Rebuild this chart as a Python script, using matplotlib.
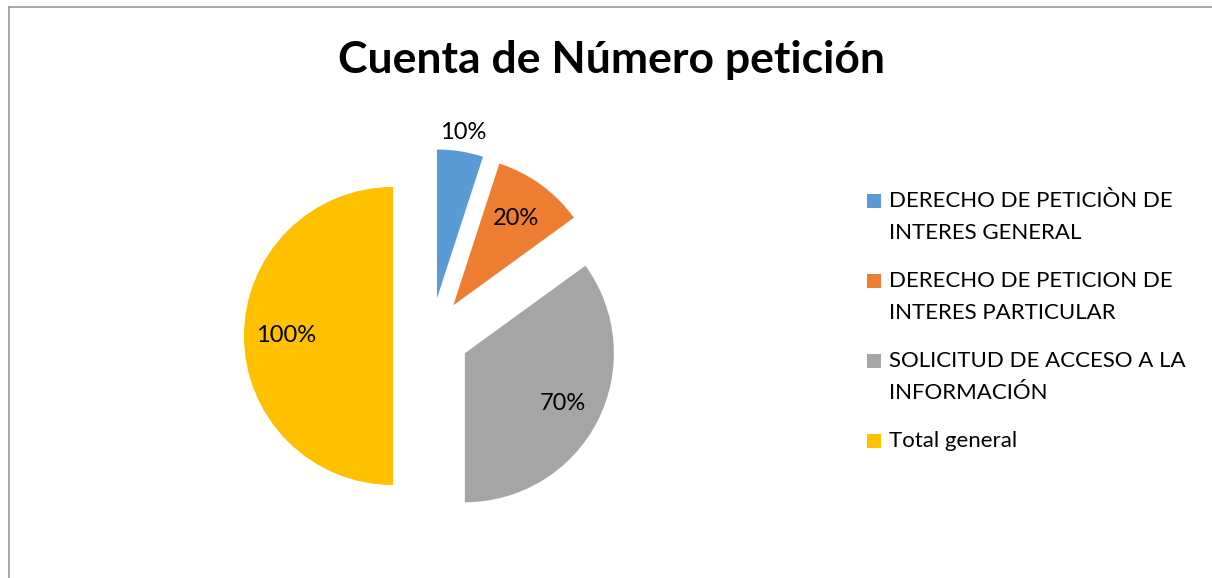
import math
import matplotlib
matplotlib.use('Agg')
import matplotlib.pyplot as plt
from matplotlib.lines import Line2D
from matplotlib.patches import Rectangle

categories = [
    'DERECHO DE PETICIÒN DE\nINTERES GENERAL',
    'DERECHO DE PETICION DE\nINTERES PARTICULAR',
    'SOLICITUD DE ACCESO A LA\nINFORMACIÓN',
    'Total general',
]
values = [10, 20, 70, 100]
value_labels = ['10%', '20%', '70%', '100%']
colors = ['#5B9BD5', '#ED7D31', '#A5A5A5', '#FFC000']

plt.rcParams['font.family'] = ['Lato', 'DejaVu Sans']

W, H = 1212, 578
fig = plt.figure(figsize=(W / 100, H / 100), dpi=100)
ax = fig.add_axes([0, 0, 1, 1])

# pixel coordinates, y measured from the bottom
wedges, _ = ax.pie(values, colors=colors, startangle=90, counterclock=False,
                   radius=149, center=(431, H - 336), explode=[38] * len(values),
                   wedgeprops=dict(linewidth=0))
ax.set_xlim(0, W); ax.set_ylim(0, H)
ax.axis('off')

label_dist = [1.13, 0.72, 0.74, 0.72]
for w, lab, f in zip(wedges, value_labels, label_dist):
    th = math.radians((w.theta1 + w.theta2) / 2)
    cx, cy = w.center
    ax.text(cx + f * w.r * math.cos(th), cy + f * w.r * math.sin(th), lab,
            ha='center', va='center', fontsize=17, color='#000000')

ax.text(611, H - 60, 'Cuenta de Número petición', ha='center', va='center',
        fontsize=32, fontweight='bold', color='#000000')

# legend drawn by hand: square aligned with first text line
y = H - 201
for cat, col in zip(categories, colors):
    ax.add_patch(Rectangle((867, y - 7), 14, 14, facecolor=col, edgecolor='none'))
    lines = cat.split('\n')
    for i, line in enumerate(lines):
        ax.text(889, y - 32 * i, line, ha='left', va='center', fontsize=16, color='#000000')
    y -= 32 * (len(lines) - 1) + 48

# chart border (only top and left visible)
ax.add_line(Line2D([8.5, 8.5], [0, H - 7], color='#9a9a9a', linewidth=1.2))
ax.add_line(Line2D([8.5, W], [H - 7, H - 7], color='#9a9a9a', linewidth=1.2))

fig.savefig('out.png', dpi=100)
